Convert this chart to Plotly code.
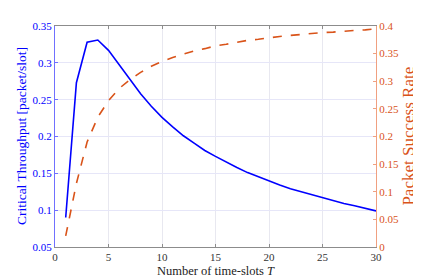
import plotly.graph_objects as go

T = list(range(1, 31))
throughput = [0.09, 0.273, 0.328, 0.331, 0.317, 0.297, 0.277, 0.258, 0.241, 0.226,
              0.213, 0.201, 0.191, 0.181, 0.173, 0.165, 0.158, 0.151, 0.145, 0.139,
              0.134, 0.129, 0.125, 0.120, 0.116, 0.113, 0.109, 0.106, 0.103, 0.099]
success = [0.02, 0.115, 0.19, 0.235, 0.265, 0.287, 0.303, 0.316, 0.327, 0.336,
           0.343, 0.349, 0.355, 0.359, 0.364, 0.367, 0.371, 0.374, 0.376, 0.379,
           0.381, 0.383, 0.385, 0.386, 0.388, 0.389, 0.391, 0.392, 0.393, 0.395]

x_ticks = [0, 5, 10, 15, 20, 25, 30]
left_ticks = [0.05, 0.1, 0.15, 0.2, 0.25, 0.3, 0.35]
right_ticks = [0, 0.05, 0.1, 0.15, 0.2, 0.25, 0.3, 0.35, 0.4]

BLUE = "#0000FF"
ORANGE = "#D95319"
FONT = "Liberation Serif, DejaVu Serif, serif"

fig = go.Figure()
fig.add_trace(go.Scatter(x=T, y=throughput, mode="lines",
                         line=dict(color=BLUE, width=1.6), yaxis="y"))
fig.add_trace(go.Scatter(x=T, y=success, mode="lines",
                         line=dict(color=ORANGE, width=1.6, dash="dash"), yaxis="y2"))

# page body adds an 8px offset; compensate in figure size/margins
fig.update_layout(
    width=413, height=272,
    margin=dict(l=47, r=45, t=14, b=33),
    paper_bgcolor="white", plot_bgcolor="white",
    showlegend=False,
    font=dict(family=FONT, size=11),
    xaxis=dict(range=[0, 30], tickvals=x_ticks, ticktext=[str(v) for v in x_ticks],
               showgrid=True, gridcolor="#E8E8F0", zeroline=False,
               showline=True, linecolor="#8C8C8C", linewidth=1, mirror="ticks",
               ticks="inside", ticklen=3, tickcolor="#8C8C8C",
               tickfont=dict(family=FONT, color="#333333", size=11)),
    yaxis=dict(range=[0.05, 0.35], tickvals=left_ticks,
               ticktext=["0.05", "0.1", "0.15", "0.2", "0.25", "0.3", "0.35"],
               showgrid=True, gridcolor="#E6E6F8", zeroline=False,
               showline=True, linecolor="#7070FF", linewidth=1,
               ticks="inside", ticklen=3, tickcolor="#7070FF",
               tickfont=dict(family=FONT, color=BLUE, size=11)),
    yaxis2=dict(range=[0, 0.4], tickvals=right_ticks,
                ticktext=["0", "0.05", "0.1", "0.15", "0.2", "0.25", "0.3", "0.35", "0.4"],
                overlaying="y", side="right", showgrid=False, zeroline=False,
                showline=True, linecolor="#F0A080", linewidth=1,
                ticks="inside", ticklen=3, tickcolor="#F0A080",
                tickfont=dict(family=FONT, color=ORANGE, size=11)),
    annotations=[
        dict(text="Number of time-slots <i>T</i>", xref="paper", yref="paper",
             x=0.5, y=-0.107, xanchor="center", yanchor="middle", showarrow=False,
             font=dict(family=FONT, size=12.5, color="#222222")),
        dict(text="Critical Throughput [packet/slot]", xref="paper", yref="paper",
             x=-0.104, y=0.5, xanchor="center", yanchor="middle", textangle=-90, showarrow=False,
             font=dict(family=FONT, size=13.5, color=BLUE)),
        dict(text="Packet Success Rate", xref="paper", yref="paper",
             x=1.1, y=0.5, xanchor="center", yanchor="middle", textangle=-90, showarrow=False,
             font=dict(family=FONT, size=17, color=ORANGE)),
    ],
)

fig.write_html("out.html")
